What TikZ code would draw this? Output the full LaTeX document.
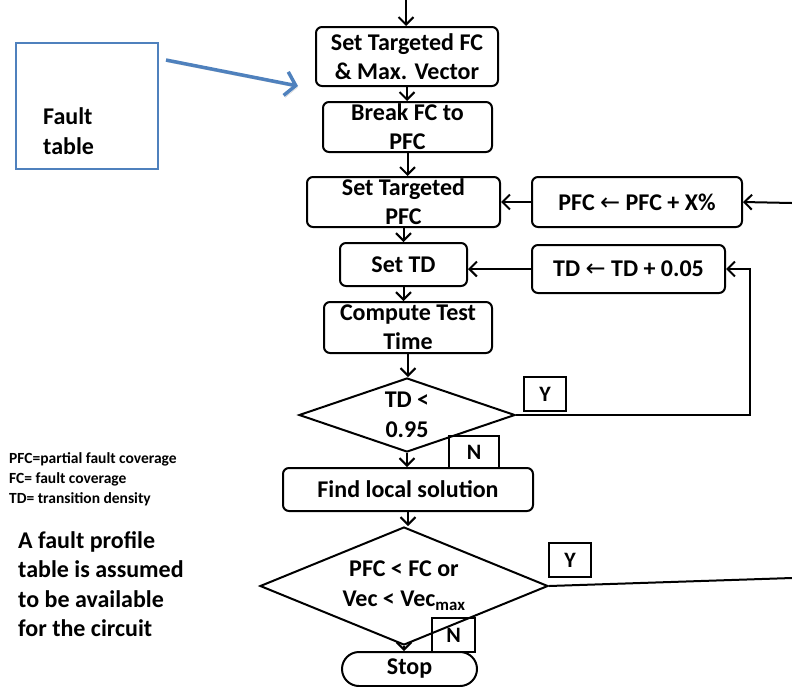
\documentclass[tikz,border=0pt]{standalone}
\usepackage{fontspec}
\setmainfont{Carlito}
\newfontfamily\arrowfont{DejaVu Sans}
\usepackage{xcolor}
\usepackage{tikz}
\usetikzlibrary{shapes.geometric, arrows.meta, positioning, calc}
\definecolor{FTBlue}{RGB}{79, 129, 189}
\definecolor{FTShadow}{RGB}{205, 205, 205}
\newcommand{\getsarrow}{{\arrowfont\mdseries ←}}

\tikzset{
  flowbox/.style={draw, rounded corners=6pt, line width=2pt, align=center,
    inner xsep=2pt, inner ysep=0pt, font=\fontsize{24}{29}\selectfont\bfseries},
  decision/.style={draw, diamond, line width=2pt, align=center, inner sep=0pt,
    font=\fontsize{24}{30}\selectfont\bfseries},
  ynbox/.style={draw, line width=2pt, inner sep=0pt,
    font=\fontsize{22}{24}\selectfont\bfseries},
  flowline/.style={line width=2pt},
  flowarrow/.style={line width=2pt, -{Straight Barb[length=7.5pt, width=15pt]}},
  faultarrow/.style={line width=3.5pt, FTBlue, -{Straight Barb[length=10pt, width=24pt]},
    preaction={draw=FTShadow, transform canvas={shift={(1.5pt,-2pt)}}}}
}

\begin{document}
\begin{tikzpicture}[x=1pt, y=-1pt]
  \useasboundingbox (0,0) rectangle (792,686);

  % main column
  \node[flowbox, minimum width=182pt, minimum height=59pt] (setfc) at (407,56.5) {Set Targeted FC\\\& Max. Vector};
  \node[flowbox, minimum width=169pt, minimum height=50pt] (breakfc) at (407.5,127) {Break FC to\\PFC};
  \node[flowbox, minimum width=193pt, minimum height=50pt] (setpfc) at (403.5,202) {Set Targeted\\PFC};
  \node[flowbox, minimum width=127pt, minimum height=43pt] (settd) at (403.5,264.5) {Set TD};
  \node[flowbox, minimum width=168pt, minimum height=51pt] (testtime) at (408,327.5) {Compute Test\\Time};
  \node[decision, minimum width=216pt, minimum height=74pt, aspect=2.9] (tdcheck) at (407,415) {TD <\\0.95};
  \node[flowbox, minimum width=250pt, minimum height=43pt] (localsol) at (408,489.5) {Find local solution};
  \node[decision, minimum width=288pt, minimum height=118pt, aspect=2.45] (pfccheck) at (404,586) {PFC < FC or\\Vec < Vec\textsubscript{max}};
  \node[flowbox, rounded corners=17pt, minimum width=135pt, minimum height=34pt] (stop) at (409.5,669) {Stop};

  % update boxes
  \node[flowbox, minimum width=210pt, minimum height=50pt] (pfcinc) at (637,202) {PFC \getsarrow{} PFC + X\%};
  \node[flowbox, minimum width=193pt, minimum height=48pt] (tdinc) at (628.5,269) {TD \getsarrow{} TD + 0.05};

  % Y / N tags
  \node[ynbox, minimum width=42pt, minimum height=34pt] (yestd) at (545,394) {Y};
  \node[ynbox, minimum width=50pt, minimum height=32pt] (notd) at (474,452) {N};
  \node[ynbox, minimum width=42pt, minimum height=34pt] (yespfc) at (570,560) {Y};
  \node[ynbox, minimum width=43pt, minimum height=34pt] (nopfc) at (453.5,635) {N};

  % fault table and notes
  \node[draw=FTBlue, line width=2pt, minimum width=142pt, minimum height=126pt] (faultbox) at (87,106) {};
  \node[anchor=west, align=left, inner sep=0pt, font=\fontsize{24}{30}\selectfont\bfseries] (faultlbl) at (43,131) {Fault\\table};
  \node[anchor=north west, align=left, inner sep=0pt, font=\fontsize{15.5}{20}\selectfont\bfseries] (legend) at (9,452)
    {PFC=partial fault coverage\\FC= fault coverage\\TD= transition density};
  \node[anchor=north west, align=left, inner sep=0pt, font=\fontsize{24}{29.5}\selectfont\bfseries] (note) at (18,531)
    {A fault profile\\table is assumed\\to be available\\for the circuit};

  \coordinate (entry) at (406,0);
  \coordinate (rightA) at (792,203);
  \coordinate (rightB) at (792,578);
  \coordinate (ftail) at (166,60);
  \coordinate (fhead) at (298,86);

  % connectors
  \draw[flowarrow] (entry) -- (entry |- setfc.north);
  \foreach \a/\b in {setfc/breakfc, breakfc/setpfc, setpfc/settd, settd/testtime,
                     testtime/tdcheck, tdcheck/localsol, localsol/pfccheck, pfccheck/stop}
    \draw[flowarrow] (\a.south) -- (\a.south |- \b.north);
  \draw[flowarrow] (rightA) -- (pfcinc.east);
  \draw[flowarrow] (pfcinc.west) -- (setpfc.east);
  \draw[flowarrow] (tdinc.west) -- (tdinc.west -| settd.east);
  \draw[flowarrow] (tdcheck.east) -| ([xshift=24pt]tdinc.east) -- (tdinc.east);
  \draw[flowline] (pfccheck.east) -- (rightB);
  \draw[faultarrow] (ftail) -- (fhead);
\end{tikzpicture}
\end{document}
